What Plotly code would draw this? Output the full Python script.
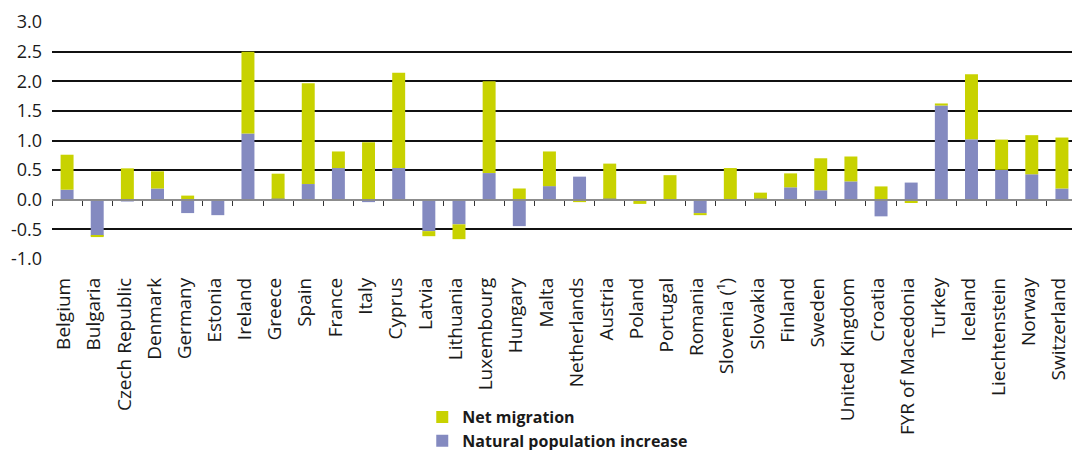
import plotly.graph_objects as go

countries = ["Belgium", "Bulgaria", "Czech Republic", "Denmark", "Germany", "Estonia",
             "Ireland", "Greece", "Spain", "France", "Italy", "Cyprus", "Latvia",
             "Lithuania", "Luxembourg", "Hungary", "Malta", "Netherlands", "Austria",
             "Poland", "Portugal", "Romania", "Slovenia (¹)", "Slovakia", "Finland",
             "Sweden", "United Kingdom", "Croatia", "FYR of Macedonia", "Turkey",
             "Iceland", "Liechtenstein", "Norway", "Switzerland"]

natural_increase = [0.17, -0.61, -0.03, 0.19, -0.225, -0.26,
                    1.12, 0.02, 0.265, 0.535, -0.04, 0.535, -0.53,
                    -0.415, 0.45, -0.445, 0.23, 0.39, 0.02,
                    0.0, 0.005, -0.225, 0.005, 0.02, 0.21,
                    0.16, 0.31, -0.28, 0.29, 1.59,
                    1.02, 0.505, 0.43, 0.19]

net_migration = [0.59, -0.02, 0.53, 0.29, 0.07, 0.005,
                 1.38, 0.42, 1.70, 0.28, 0.97, 1.61, -0.085,
                 -0.25, 1.55, 0.19, 0.585, -0.04, 0.59,
                 -0.07, 0.41, -0.035, 0.53, 0.10, 0.235,
                 0.54, 0.42, 0.225, -0.055, 0.035,
                 1.10, 0.51, 0.66, 0.86]

y_ticks = [-1.0, -0.5, 0.0, 0.5, 1.0, 1.5, 2.0, 2.5, 3.0]
y_tick_text = ["-1.0", "-0.5", "0.0", "0.5", "1.0", "1.5", "2.0", "2.5", "3.0"]

GREEN = "#c8d200"
PURPLE = "#848ac0"
FONT = "Open Sans"

x = list(range(len(countries)))

fig = go.Figure()
fig.add_trace(go.Bar(x=x, y=natural_increase, name="Natural population increase",
                     marker=dict(color=PURPLE, line=dict(width=0)), legendrank=2))
fig.add_trace(go.Bar(x=x, y=net_migration, name="Net migration",
                     marker=dict(color=GREEN, line=dict(width=0)), legendrank=1))
# invisible trace so the zero-line axis (xaxis2) is drawn
fig.add_trace(go.Scatter(x=[0], y=[0], xaxis="x2", mode="markers",
                         marker=dict(opacity=0), showlegend=False, hoverinfo="skip"))

xr = [-0.5, len(countries) - 0.5 - 5 / 30.15]

fig.update_layout(
    width=1072, height=450,
    margin=dict(l=52, r=0, t=22, b=191, autoexpand=False),
    paper_bgcolor="white", plot_bgcolor="white",
    barmode="relative", bargap=0.57,
    font=dict(family=FONT, color="#1a1a1a"),
    showlegend=True,
    legend=dict(x=0.363, y=-0.595, xanchor="left", yanchor="top",
                font=dict(family=FONT, size=16, color="#1a1a1a", weight="bold"),
                bgcolor="rgba(0,0,0,0)", tracegroupgap=0),
    xaxis=dict(range=xr, tickmode="array", tickvals=x, ticktext=countries,
               tickangle=-90, showgrid=False, zeroline=False, showline=False,
               ticks="", ticklabelstandoff=14, ticklabelshift=-3, automargin=False,
               ticklabeloverflow="allow",
               tickfont=dict(family=FONT, size=19, color="#1a1a1a")),
    xaxis2=dict(range=xr, overlaying="x", anchor="free", position=0.25,
                side="bottom", showline=True, linecolor="#8c8c8c", linewidth=1.5,
                ticks="outside", ticklen=5, tickwidth=1.2, tickcolor="#333333",
                tickmode="array", tickvals=[i - 0.5 for i in range(len(countries) + 1)],
                showticklabels=False, showgrid=False, zeroline=False, automargin=False),
    yaxis=dict(range=[-1, 3], tickmode="array", tickvals=y_ticks, ticktext=y_tick_text,
               showgrid=True, gridcolor="#111111", gridwidth=1.5, zeroline=False,
               showline=False, ticks="", ticklabelstandoff=9, automargin=False,
               tickfont=dict(family=FONT, size=18, color="#1a1a1a")),
)

fig.write_html("out.html", config={"displayModeBar": False},
               post_script="document.body.style.margin='0';document.body.style.overflow='hidden';")
